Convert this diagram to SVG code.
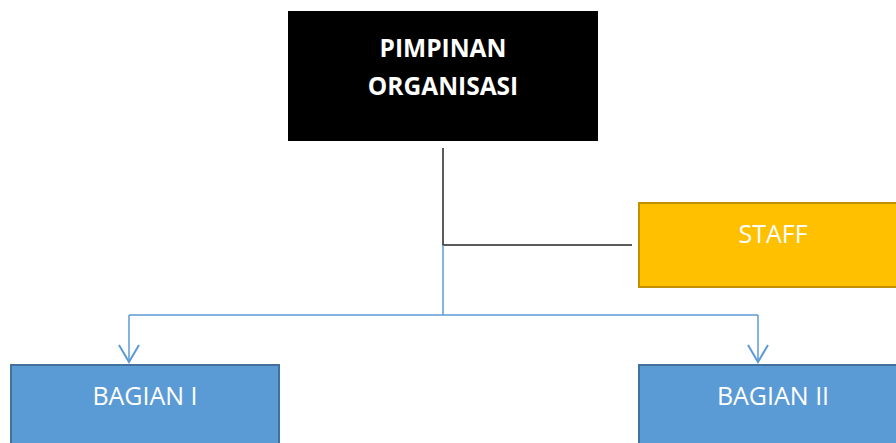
<svg xmlns="http://www.w3.org/2000/svg" width="896" height="443" viewBox="0 0 896 443">
<style>
.t{font-family:"Open Sans","Noto Sans","Liberation Sans",sans-serif;fill:#fff;text-anchor:middle}
.b{font-weight:bold;font-size:24.5px}
.r{font-size:25px}
.blue{fill:#5B9BD5;stroke:#41719C;stroke-width:2}
.blk{stroke:#262626;stroke-width:1.5;fill:none}
.bl{stroke:#5B9BD5;stroke-width:1.5;fill:none}
</style>
<defs>
<marker id="v" markerWidth="22" markerHeight="20" refX="11" refY="18" orient="0" markerUnits="userSpaceOnUse">
<path d="M1,1 L11,18 L21,1" fill="none" stroke="#5B9BD5" stroke-width="2"/>
</marker>
</defs>
<g id="connectors">
<path class="blk" d="M443,148 V245 H632"/>
<path class="bl" d="M443,245 V315"/>
<path class="bl" d="M129,315 H758"/>
<path class="bl" d="M129,315 V362" marker-end="url(#v)"/>
<path class="bl" d="M758,315 V362" marker-end="url(#v)"/>
</g>
<g id="pimpinan">
<rect x="288" y="11" width="310" height="130" fill="#000"/>
<text class="t b" x="443" y="57">PIMPINAN</text>
<text class="t b" x="443" y="95">ORGANISASI</text>
</g>
<g id="staff">
<rect x="639" y="203" width="260" height="84" fill="#FFC000" stroke="#BF9000" stroke-width="2"/>
<text class="t r" x="773" y="243">STAFF</text>
</g>
<g id="bagian1">
<rect x="11" y="365" width="268" height="90" class="blue"/>
<text class="t r" x="145" y="405">BAGIAN I</text>
</g>
<g id="bagian2">
<rect x="639" y="365" width="268" height="90" class="blue"/>
<text class="t r" x="773" y="405">BAGIAN II</text>
</g>
</svg>
